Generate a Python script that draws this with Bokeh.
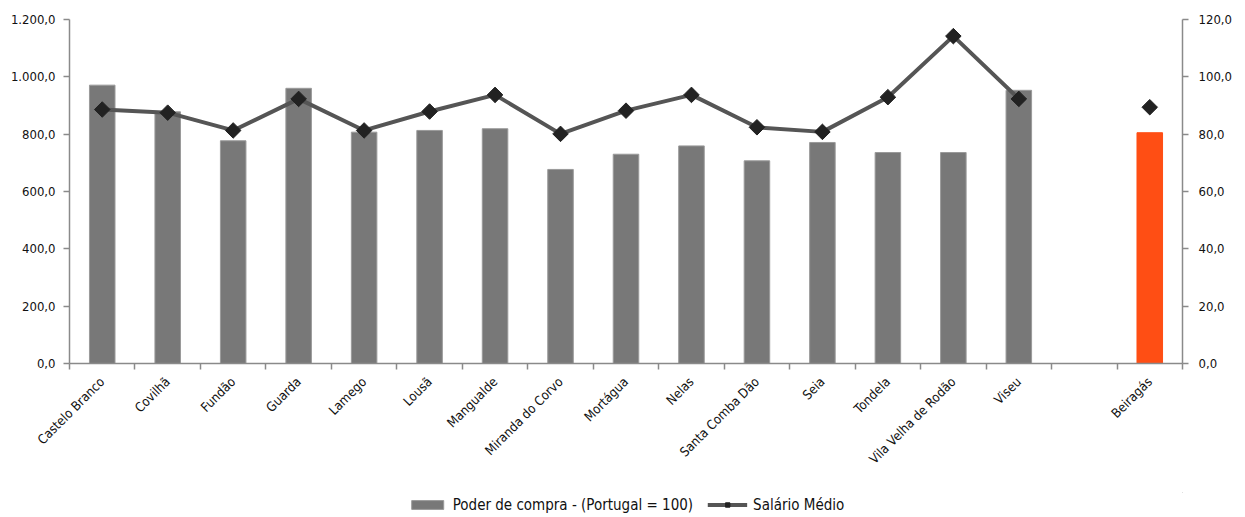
import numpy as np
from bokeh.plotting import figure
from bokeh.layouts import column
from bokeh.models import (Range1d, LinearAxis, FixedTicker, CustomJSTickFormatter,
                          ColumnDataSource, Legend, LegendItem)
from bokeh.embed import file_html
from bokeh.resources import INLINE

categories = ["Castelo Branco", "Covilhã", "Fundão", "Guarda", "Lamego", "Lousã",
              "Mangualde", "Miranda do Corvo", "Mortágua", "Nelas", "Santa Comba Dão",
              "Seia", "Tondela", "Vila Velha de Rodão", "Viseu", "", "Beiragás"]
poder_compra = [97.1, 87.8, 77.7, 96.0, 80.7, 81.3, 81.9, 67.7, 73.0, 75.9, 70.7,
                77.1, 73.6, 73.6, 95.3, None, 80.5]
salario_medio = [886, 875, 813, 923, 813, 879, 937, 801, 882, 937, 824,
                 808, 929, 1142, 923, None, 894]
left_ticks = [0, 200, 400, 600, 800, 1000, 1200]
right_ticks = [0, 20, 40, 60, 80, 100, 120]
series_names = ["Poder de compra - (Portugal = 100)", "Salário Médio"]

FONT = "DejaVu Sans Condensed"
GRAY_BAR = "#787878"
GRAY_EDGE = "#9a9a9a"
ORANGE = "#FF4E14"
AXIS_COL = "#8a8a8a"
LINE_COL = "#555555"
MARK_COL = "#222222"

n = len(categories)
xc = np.arange(n) + 0.5

bar_idx = [i for i, v in enumerate(poder_compra) if v is not None]
bar_src = ColumnDataSource(dict(
    x=[xc[i] for i in bar_idx],
    top=[poder_compra[i] for i in bar_idx],
    color=[ORANGE if categories[i] == "Beiragás" else GRAY_BAR for i in bar_idx],
    line=[ORANGE if categories[i] == "Beiragás" else GRAY_EDGE for i in bar_idx],
))
line_idx = [i for i, v in enumerate(salario_medio) if v is not None and categories[i] != "Beiragás"]
pt_idx = [i for i, v in enumerate(salario_medio) if v is not None]

p = figure(width=1245, height=492, output_backend="svg", toolbar_location=None,
           x_range=Range1d(0, n), y_range=Range1d(0, 1200),
           min_border_left=69, min_border_right=63, min_border_top=19, min_border_bottom=129,
           x_axis_type=None, y_axis_type=None)
p.outline_line_color = None
p.grid.visible = False
p.background_fill_color = "white"
p.border_fill_color = "white"
p.extra_y_ranges = {"right": Range1d(0, 120)}

p.vbar(x="x", top="top", width=0.39, bottom=0, source=bar_src, y_range_name="right",
       fill_color="color", line_color="line", line_width=1)
p.line([xc[i] for i in line_idx], [salario_medio[i] for i in line_idx],
       line_color=LINE_COL, line_width=4)
p.scatter([xc[i] for i in pt_idx], [salario_medio[i] for i in pt_idx],
          marker="square", angle=np.pi / 4, size=11,
          fill_color=MARK_COL, line_color=MARK_COL)

fmt_left = CustomJSTickFormatter(code="""
const s = tick.toFixed(1).split('.');
const i = s[0].replace(/\\B(?=(\\d{3})+(?!\\d))/g, '.');
return i + ',' + s[1];
""")
fmt_right = CustomJSTickFormatter(code="""
const s = tick.toFixed(1).split('.');
return s[0] + ',' + s[1];
""")

def style_axis(ax):
    ax.axis_line_color = AXIS_COL
    ax.axis_line_width = 1.5
    ax.major_tick_line_color = AXIS_COL
    ax.major_tick_line_width = 1.5
    ax.major_tick_out = 6
    ax.major_tick_in = 0
    ax.minor_tick_line_color = None
    ax.major_label_text_font = FONT
    ax.major_label_text_font_size = "13px"
    ax.major_label_text_color = "#111111"

yl = LinearAxis(ticker=FixedTicker(ticks=left_ticks), formatter=fmt_left)
style_axis(yl)
yl.major_label_standoff = 8
p.add_layout(yl, "left")

yr = LinearAxis(y_range_name="right", ticker=FixedTicker(ticks=right_ticks), formatter=fmt_right)
style_axis(yr)
yr.major_label_standoff = 10
p.add_layout(yr, "right")

xa = LinearAxis(ticker=FixedTicker(ticks=list(xc), minor_ticks=list(range(n + 1))),
                major_label_overrides={float(x): c if c else " " for x, c in zip(xc, categories)})
style_axis(xa)
xa.major_tick_line_color = None
xa.minor_tick_line_color = AXIS_COL
xa.minor_tick_line_width = 1.5
xa.minor_tick_out = 6
xa.minor_tick_in = 0
xa.major_label_orientation = np.pi / 4
xa.major_label_standoff = 10
p.add_layout(xa, "below")

# legend strip (its sample glyphs sit outside the strip's visible range)
lg = figure(width=1245, height=25, output_backend="svg", toolbar_location=None,
            x_axis_type=None, y_axis_type=None, min_border=0,
            x_range=Range1d(0, 1), y_range=Range1d(0, 1))
lg.outline_line_color = None
lg.grid.visible = False
r_bar = lg.vbar(x=[5], top=[5], bottom=[4], width=0.5, fill_color=GRAY_BAR, line_color=GRAY_EDGE)
r_line = lg.line(x=[5, 6], y=[5, 5], line_color=LINE_COL, line_width=4)
r_pt = lg.scatter(x=[5], y=[5], marker="square", angle=np.pi / 4, size=9,
                  fill_color=MARK_COL, line_color=MARK_COL)
legend = Legend(items=[
    LegendItem(label=series_names[0], renderers=[r_bar]),
    LegendItem(label=series_names[1], renderers=[r_line, r_pt]),
], orientation="horizontal", location="center", margin=0,
    label_text_font=FONT, label_text_font_size="15px", label_text_color="#111111",
    glyph_width=40, glyph_height=11, spacing=14, padding=2, label_standoff=6,
    border_line_color=None, background_fill_alpha=0)
lg.add_layout(legend, "center")

open("out.html", "w").write(file_html(column(p, lg, spacing=0), INLINE))
